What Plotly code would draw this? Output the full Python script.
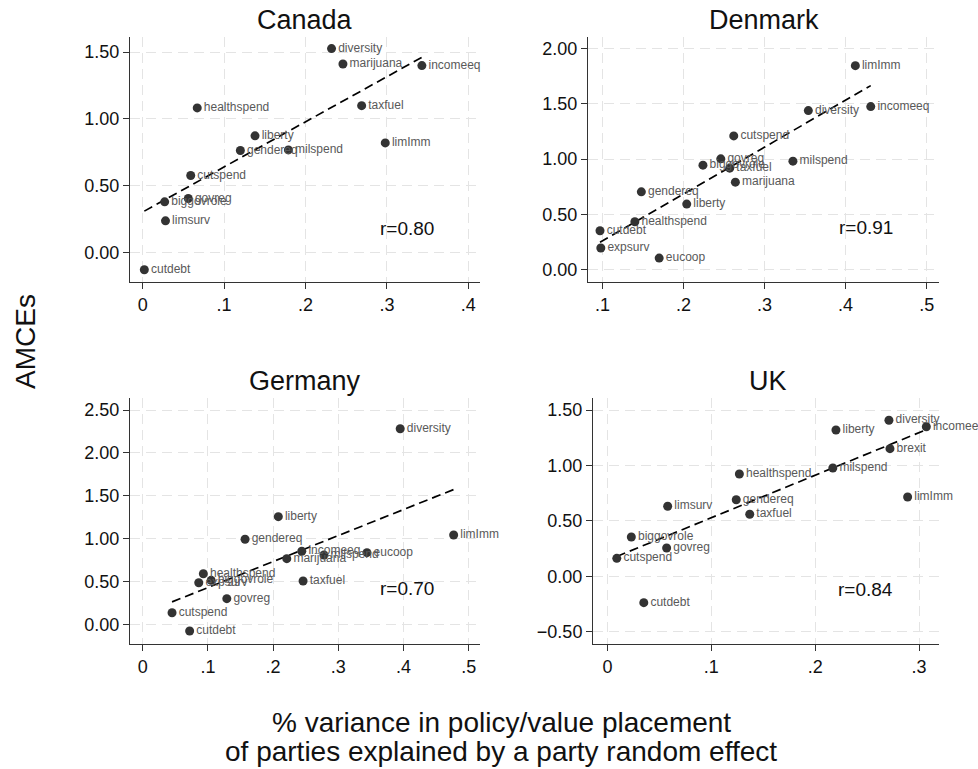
import numpy as np
import plotly.graph_objects as go

W, H = 978, 769

# ---------------- data ----------------
canada_labels = ["diversity", "marijuana", "incomeeq", "healthspend", "taxfuel", "liberty",
                 "limImm", "gendereq", "milspend", "cutspend", "govreg", "biggovrole",
                 "limsurv", "cutdebt"]
canada_x = [0.232, 0.246, 0.343, 0.067, 0.269, 0.138, 0.298, 0.120, 0.179, 0.059, 0.056,
            0.027, 0.028, 0.002]
canada_y = [1.526, 1.411, 1.399, 1.082, 1.099, 0.873, 0.820, 0.763, 0.768, 0.576, 0.404,
            0.379, 0.237, -0.129]

denmark_labels = ["limImm", "incomeeq", "diversity", "cutspend", "govreg", "milspend",
                  "biggovrole", "taxfuel", "marijuana", "gendereq", "liberty", "healthspend",
                  "cutdebt", "expsurv", "eucoop"]
denmark_x = [0.412, 0.431, 0.354, 0.262, 0.246, 0.335, 0.224, 0.257, 0.264, 0.148, 0.204,
             0.140, 0.097, 0.098, 0.170]
denmark_y = [1.844, 1.474, 1.438, 1.209, 1.002, 0.981, 0.945, 0.918, 0.791, 0.704, 0.593,
             0.433, 0.352, 0.196, 0.105]

germany_labels = ["diversity", "limImm", "liberty", "gendereq", "incomeeq", "milspend",
                  "eucoop", "marijuana", "taxfuel", "healthspend", "expsurv", "biggovrole",
                  "govreg", "cutspend", "cutdebt"]
germany_x = [0.395, 0.477, 0.208, 0.157, 0.244, 0.278, 0.344, 0.221, 0.246, 0.093, 0.086,
             0.105, 0.129, 0.045, 0.072]
germany_y = [2.282, 1.042, 1.256, 0.992, 0.852, 0.809, 0.836, 0.766, 0.505, 0.590, 0.485,
             0.513, 0.299, 0.135, -0.078]

uk_labels = ["diversity", "incomeeq", "liberty", "brexit", "milspend", "healthspend",
             "limImm", "gendereq", "limsurv", "taxfuel", "biggovrole", "govreg",
             "cutspend", "cutdebt"]
uk_x = [0.271, 0.307, 0.220, 0.272, 0.217, 0.127, 0.289, 0.124, 0.058, 0.137, 0.023, 0.057,
        0.009, 0.035]
uk_y = [1.408, 1.350, 1.320, 1.152, 0.977, 0.923, 0.716, 0.691, 0.632, 0.560, 0.355, 0.255,
        0.162, -0.238]

titles = ["Canada", "Denmark", "Germany", "UK"]
r_texts = ["r=0.80", "r=0.91", "r=0.70", "r=0.84"]

x_ticks = {
    "Canada": [0, 0.1, 0.2, 0.3, 0.4],
    "Denmark": [0.1, 0.2, 0.3, 0.4, 0.5],
    "Germany": [0, 0.1, 0.2, 0.3, 0.4, 0.5],
    "UK": [0, 0.1, 0.2, 0.3],
}
y_ticks = {
    "Canada": [0.0, 0.5, 1.0, 1.5],
    "Denmark": [0.0, 0.5, 1.0, 1.5, 2.0],
    "Germany": [0.0, 0.5, 1.0, 1.5, 2.0, 2.5],
    "UK": [-0.5, 0.0, 0.5, 1.0, 1.5],
}

# ---------------- layout geometry (pixels) ----------------
panels = {
    "Canada":  dict(px=(130, 480), py=(37, 282), xr=(-0.0156, 0.4144), yr=(-0.221, 1.613),
                    r_pos=(0.325, 0.177), title_xy=(305, 20)),
    "Denmark": dict(px=(588, 939), py=(37, 282), xr=(0.0822, 0.5152), yr=(-0.111, 2.103),
                    r_pos=(0.425, 0.379), title_xy=(764, 20)),
    "Germany": dict(px=(130, 480), py=(398, 644), xr=(-0.0195, 0.5174), yr=(-0.230, 2.641),
                    r_pos=(0.406, 0.412), title_xy=(305, 381)),
    "UK":      dict(px=(593, 939), py=(398, 644), xr=(-0.0139, 0.3192), yr=(-0.611, 1.609),
                    r_pos=(0.2488, -0.115), title_xy=(768, 381)),
}

data = {
    "Canada": (canada_x, canada_y, canada_labels),
    "Denmark": (denmark_x, denmark_y, denmark_labels),
    "Germany": (germany_x, germany_y, germany_labels),
    "UK": (uk_x, uk_y, uk_labels),
}

FONT = "Arial, Liberation Sans, sans-serif"
fig = go.Figure()
annotations = []

def fmt_x(v):
    if v == 0:
        return "0"
    return ("%.1f" % v).lstrip("0")

for i, name in enumerate(titles):
    k = "" if i == 0 else str(i + 1)
    xa, ya = "x" + k, "y" + k
    p = panels[name]
    xs, ys, labs = data[name]

    # fitted line
    slope, inter = np.polyfit(xs, ys, 1)
    lx = np.array([min(xs), max(xs)])
    fig.add_trace(go.Scatter(x=lx, y=inter + slope * lx, mode="lines", xaxis=xa, yaxis=ya,
                             line=dict(color="black", width=1.7, dash="9px,5px"),
                             showlegend=False, hoverinfo="skip"))
    # points
    fig.add_trace(go.Scatter(x=xs, y=ys, mode="markers+text", text=labs,
                             textposition="middle right", xaxis=xa, yaxis=ya,
                             marker=dict(color="#333333", size=9),
                             textfont=dict(family=FONT, size=12, color="#595959"),
                             showlegend=False, cliponaxis=False))

    dom_x = [p["px"][0] / W, p["px"][1] / W]
    dom_y = [1 - p["py"][1] / H, 1 - p["py"][0] / H]
    axis_common = dict(showline=True, linecolor="#333333", linewidth=1, ticks="outside",
                       ticklen=6, tickcolor="#333333", showgrid=True, gridcolor="#e4e4e4",
                       griddash="10px,6px", gridwidth=1.4, zeroline=False,
                       tickfont=dict(family=FONT, size=18, color="#111111"))
    fig.update_layout(**{
        ("xaxis" + k): dict(domain=dom_x, range=list(p["xr"]), anchor=ya,
                            tickvals=x_ticks[name], ticktext=[fmt_x(v) for v in x_ticks[name]],
                            **axis_common),
        ("yaxis" + k): dict(domain=dom_y, range=list(p["yr"]), anchor=xa,
                            tickvals=y_ticks[name], tickformat=".2f", **axis_common),
    })
    annotations.append(dict(x=p["r_pos"][0], y=p["r_pos"][1], xref=xa, yref=ya,
                            text=r_texts[i], showarrow=False, xanchor="center", yanchor="middle",
                            font=dict(family=FONT, size=19, color="#111111")))
    annotations.append(dict(x=p["title_xy"][0] / W, y=1 - p["title_xy"][1] / H,
                            xref="paper", yref="paper", text=name, showarrow=False,
                            xanchor="center", yanchor="middle",
                            font=dict(family=FONT, size=27, color="#111111")))

annotations.append(dict(x=25 / W, y=1 - 342 / H, xref="paper", yref="paper", text="AMCEs",
                        textangle=-90, showarrow=False, xanchor="center", yanchor="middle",
                        font=dict(family=FONT, size=28, color="#111111")))
annotations.append(dict(x=501 / W, y=1 - 722 / H, xref="paper", yref="paper",
                        text="% variance in policy/value placement",
                        showarrow=False, xanchor="center", yanchor="middle",
                        font=dict(family=FONT, size=28, color="#111111")))
annotations.append(dict(x=501 / W, y=1 - 751 / H, xref="paper", yref="paper",
                        text="of parties explained by a party random effect",
                        showarrow=False, xanchor="center", yanchor="middle",
                        font=dict(family=FONT, size=28, color="#111111")))

fig.update_layout(width=W, height=H, margin=dict(l=0, r=0, t=0, b=0),
                  paper_bgcolor="white", plot_bgcolor="white",
                  annotations=annotations, font=dict(family=FONT))

fig.write_html("out.html")
